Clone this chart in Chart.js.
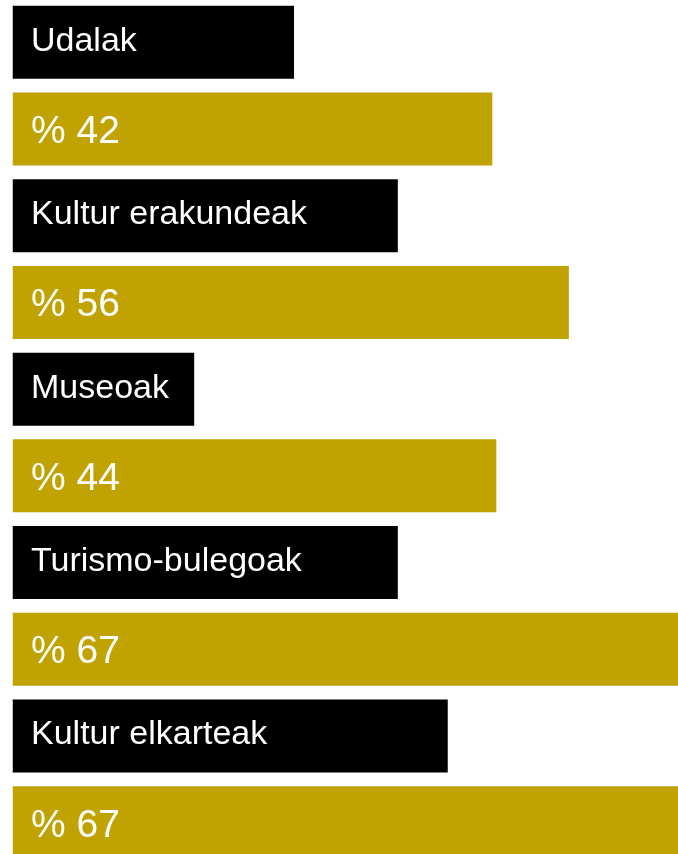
<!DOCTYPE html>
<html>
<head>
<meta charset="utf-8">
<script src="https://cdn.jsdelivr.net/npm/chart.js@4"></script>
<style>
  html, body { margin: 0; padding: 0; background: #fff; overflow: hidden; }
  #wrap { position: absolute; left: 0; top: -1px; width: 678px; height: 867px; }
</style>
</head>
<body>
<div id="wrap"><canvas id="chart"></canvas></div>
<script>
// categorias eta ehunekoak
const categories = ['Udalak', 'Kultur erakundeak', 'Museoak', 'Turismo-bulegoak', 'Kultur elkarteak'];
const percents = [42, 56, 44, 67, 67];
// barren luzerak, irudian irakurrita (0-100 eskala)
const labelBarLength = [42.3, 57.9, 27.3, 57.9, 65.4];
const percentBarLength = [72.1, 83.6, 72.7, 100, 100];

const BLACK = '#000000';
const GOLD = '#c0a200';

// errenkadak txandakatu: izena (beltza) + ehunekoa (urrea)
const rowLabels = [];
const rowValues = [];
const rowColors = [];
const rowTexts = [];
const rowKinds = [];
categories.forEach((c, i) => {
  rowLabels.push(c);
  rowValues.push(labelBarLength[i]);
  rowColors.push(BLACK);
  rowTexts.push(c);
  rowKinds.push('label');

  rowLabels.push(c + ' %');
  rowValues.push(percentBarLength[i]);
  rowColors.push(GOLD);
  rowTexts.push(`% ${percents[i]}`);
  rowKinds.push('pct');
});

const barTexts = {
  id: 'barTexts',
  afterDatasetsDraw(chart) {
    const ctx = chart.ctx;
    const meta = chart.getDatasetMeta(0);
    ctx.save();
    ctx.fillStyle = '#ffffff';
    ctx.textAlign = 'left';
    ctx.textBaseline = 'alphabetic';
    meta.data.forEach((bar, i) => {
      const x = bar.base + 18.5;
      if (rowKinds[i] === 'label') {
        ctx.font = '34px "Liberation Sans", Arial, sans-serif';
        ctx.fillText(rowTexts[i], x, bar.y + 8.5);
      } else {
        ctx.font = '39px "Liberation Sans", Arial, sans-serif';
        ctx.fillText(rowTexts[i], x, bar.y + 14);
      }
    });
    ctx.restore();
  }
};

new Chart(document.getElementById('chart').getContext('2d'), {
  type: 'bar',
  data: {
    labels: rowLabels,
    datasets: [{
      data: rowValues,
      backgroundColor: rowColors,
      borderWidth: 0,
      barPercentage: 0.842,
      categoryPercentage: 1
    }]
  },
  options: {
    indexAxis: 'y',
    responsive: true,
    maintainAspectRatio: false,
    animation: false,
    layout: { padding: { left: 12.5, right: 0, top: 0, bottom: 0 } },
    scales: {
      x: { display: false, min: 0, max: 100 },
      y: { display: false }
    },
    plugins: {
      legend: { display: false },
      tooltip: { enabled: false }
    }
  },
  plugins: [barTexts]
});
</script>
</body>
</html>
